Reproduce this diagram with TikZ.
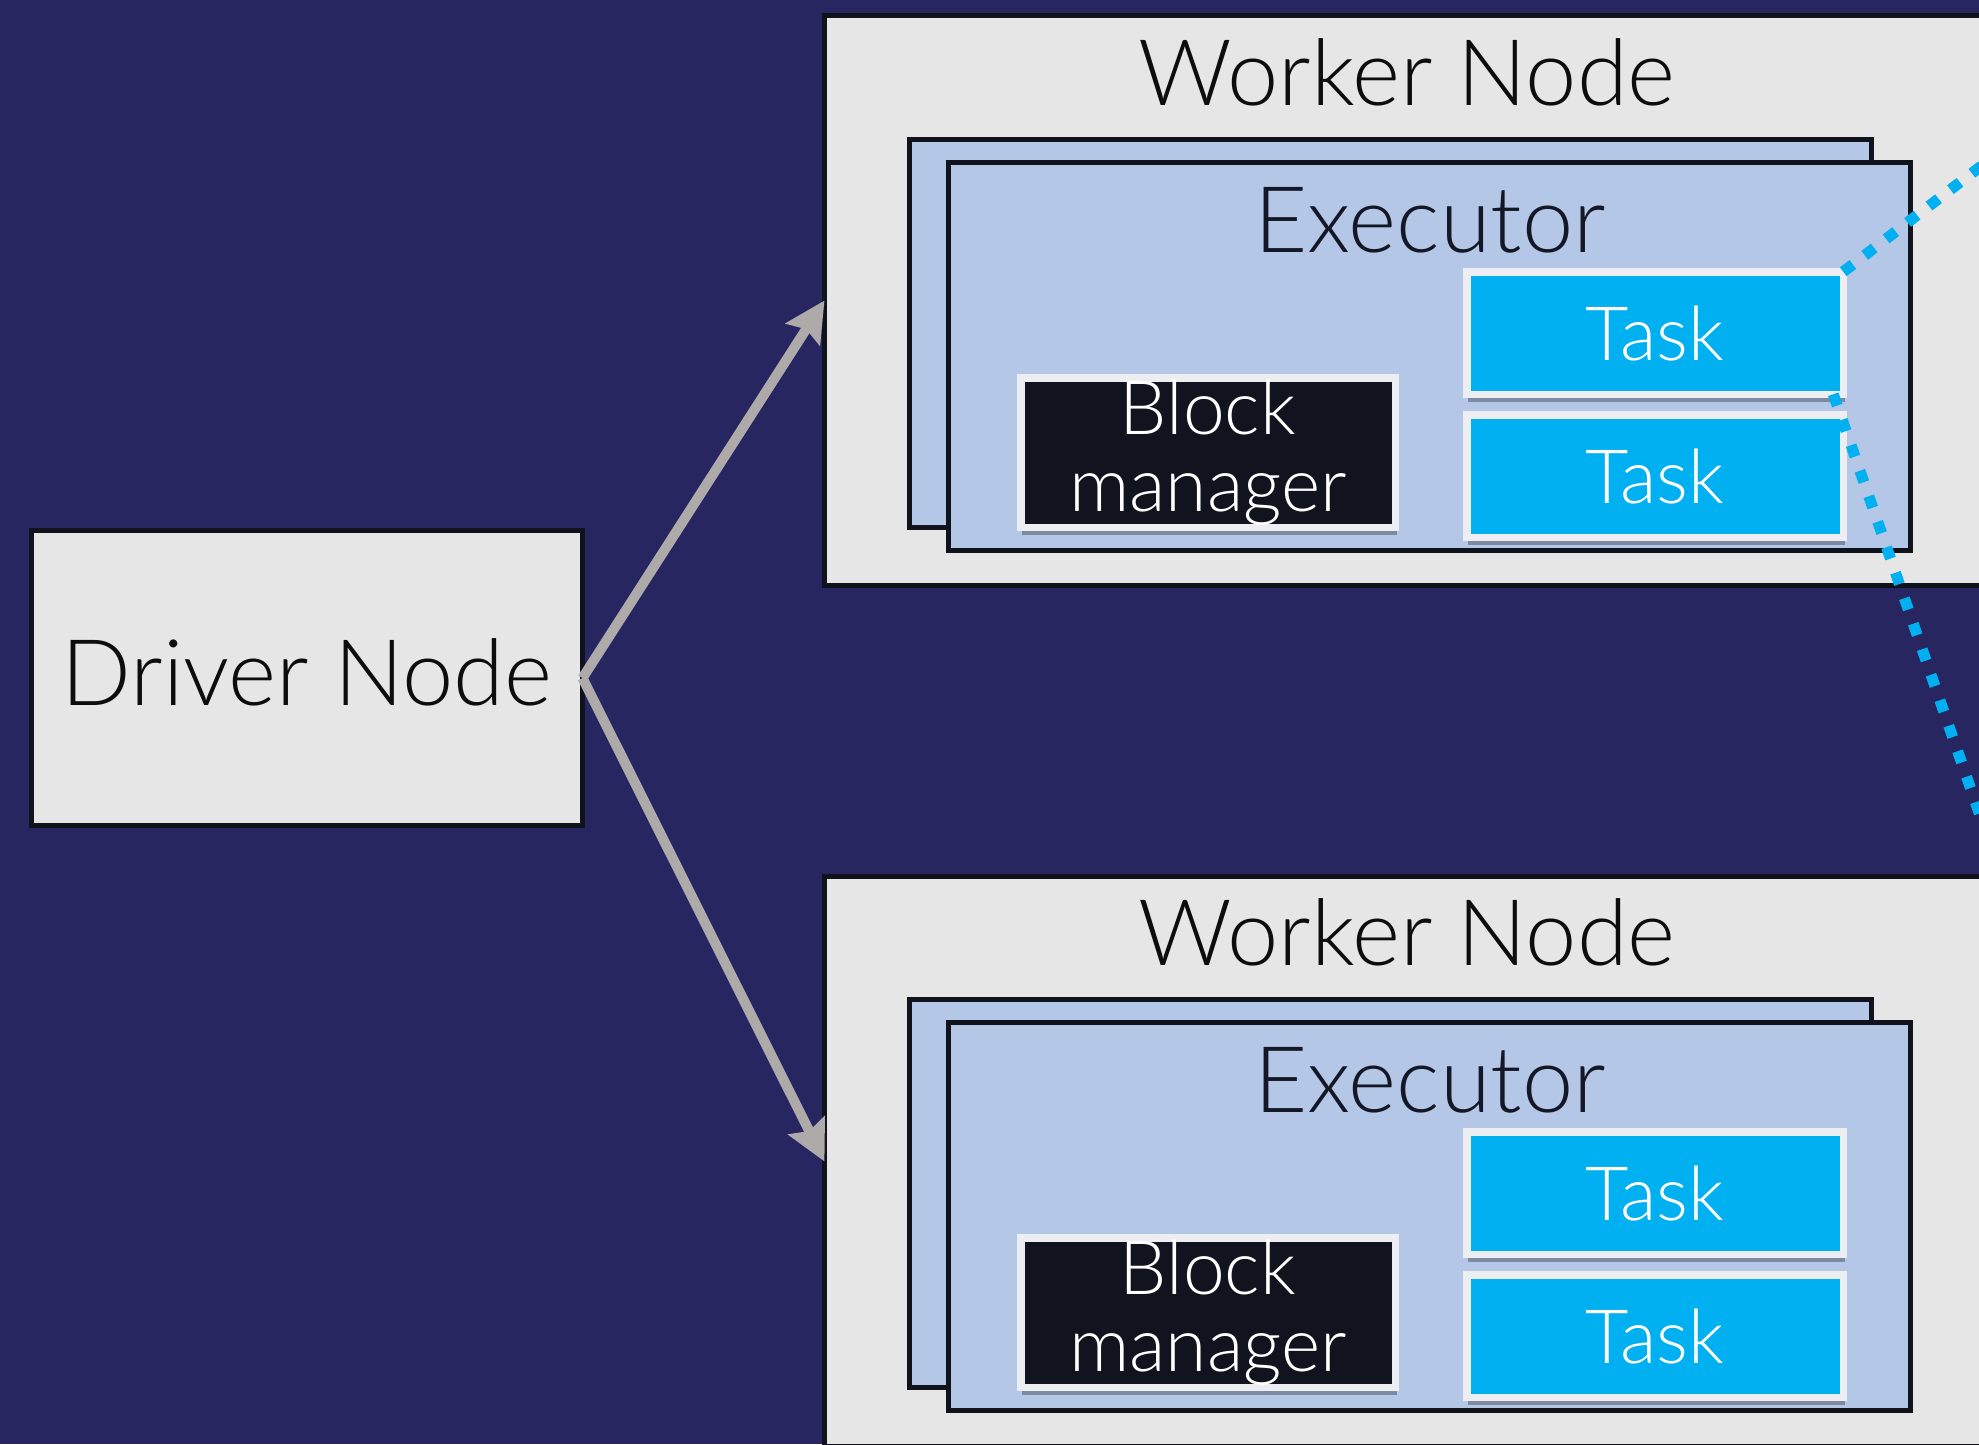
\documentclass[tikz,border=0pt]{standalone}
\usepackage{fontspec}
\setmainfont{Lato}[UprightFont=* Light]
\usetikzlibrary{arrows.meta,shadows}

\definecolor{bgnavy}{HTML}{272660}
\definecolor{edge}{HTML}{11131C}
\definecolor{workerfill}{HTML}{E6E6E6}
\definecolor{execfill}{HTML}{B4C7E7}
\definecolor{taskfill}{HTML}{00B0F0}
\definecolor{rimwhite}{HTML}{ECEEF2}
\definecolor{blockfill}{HTML}{11131E}
\definecolor{arrowgray}{HTML}{AEAAAA}
\definecolor{ink}{HTML}{0D0D0D}
\definecolor{execink}{HTML}{141726}

\tikzset{
  box/.style={draw=edge, line width=5pt, inner sep=0pt, outer sep=0pt},
  drivernode/.style={box, fill=workerfill, minimum width=551pt, minimum height=295pt,
    font=\fontsize{92}{110}\selectfont, text=ink, text height=66pt, text depth=12pt},
  worker/.style={box, fill=workerfill, minimum width=1500pt, minimum height=570pt},
  execbox/.style={box, fill=execfill, minimum width=962pt, minimum height=388pt},
  headtext/.style={anchor=base, inner sep=0pt, font=\fontsize{92}{110}\selectfont},
  softshadow/.style={drop shadow={shadow xshift=1.5pt, shadow yshift=-8pt, opacity=0.3, fill=black}},
  taskbox/.style={softshadow, fill=taskfill, draw=rimwhite, line width=7.5pt,
    inner sep=0pt, outer sep=0pt, minimum width=376.5pt, minimum height=122.5pt,
    font=\fontsize{75}{77}\selectfont, text=white, text height=54pt, text depth=0pt},
  blockbox/.style={softshadow, fill=blockfill, draw=rimwhite, line width=7.5pt,
    inner sep=0pt, outer sep=0pt, minimum width=374.5pt, minimum height=149.5pt,
    font=\fontsize{75}{77}\selectfont, text=white, align=center},
  conn/.style={draw=arrowgray, line width=10pt, -{Stealth[length=40pt,width=40pt,inset=6pt]}},
  dots/.style={draw=taskfill, line width=11pt, dash pattern=on 12pt off 15pt},
}

\begin{document}
\begin{tikzpicture}[x=1pt,y=-1pt]
\useasboundingbox (0,0) rectangle (1979,1444);
\clip (0,0) rectangle (1979,1444);
\fill[bgnavy] (0,0) rectangle (1979,1444);

% driver
\node[drivernode] (drv) at (307,678) {Driver Node};

% two worker nodes, each with a stacked pair of executors
\foreach \i/\dy in {1/0, 2/860} {
  \node[worker] (w\i) at (1574.5, 300.5+\dy+\i-1) {};
  \node[headtext, text=ink] (wl\i) at (1407, 105+\dy) {Worker Node};
  \node[execbox] (eb\i) at (1390.5, 333.5+\dy) {};
  \node[execbox] (ef\i) at (1429.5, 356.5+\dy) {};
  \node[headtext, text=execink] (el\i) at (1430, 252+\dy) {Executor};
  \node[blockbox] (bm\i) at (1208, 452.5+\dy) {Block\\manager};
  \node[taskbox] (ta\i) at (1655, 333+\dy) {Task};
  \node[taskbox] (tb\i) at (1655, 476+\dy) {Task};
}

% driver to workers
\draw[conn] (drv.east) -- (w1.west);
\draw[conn] (drv.east) -- (w2.west);

% dotted guides from the first task
\coordinate (zoomtop) at (2100,75);
\coordinate (zoombot) at (2060,1045);
\draw[dots] (ta1.north east) -- (zoomtop);
\draw[dots] ([xshift=-10pt]ta1.south east) -- (zoombot);
\end{tikzpicture}
\end{document}
